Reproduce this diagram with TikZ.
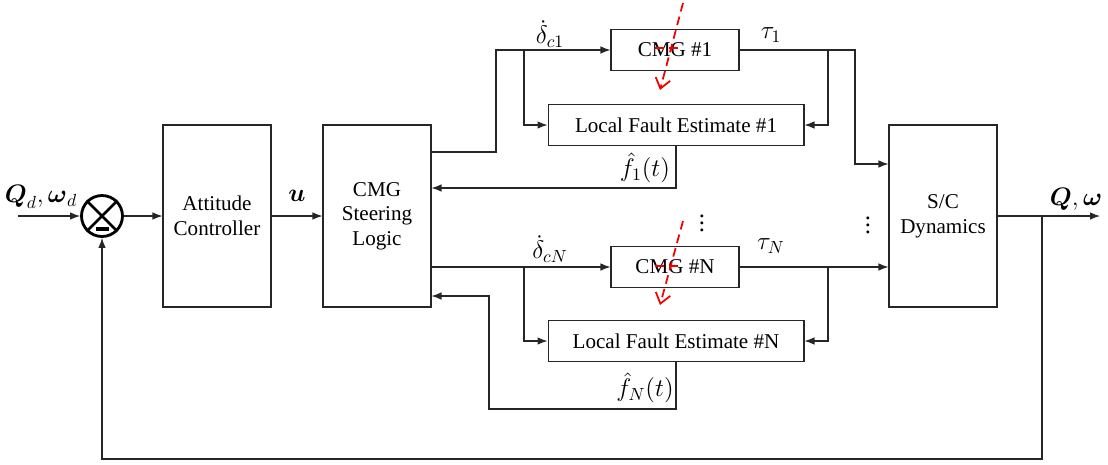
\documentclass[tikz,border=0pt]{standalone}
\usepackage{amsmath}
\usepackage{fontspec}
\setmainfont{Liberation Serif}
\usetikzlibrary{arrows.meta}

\tikzstyle{block}=[draw, line width = 0.6pt, align = center, inner sep = 0pt]
\tikzstyle{tall}=[block, minimum width = 2.16cm, minimum height = 3.64cm]
\tikzstyle{cmg}=[block, minimum width = 2.56cm, minimum height = 0.82cm]
\tikzstyle{est}=[block, minimum width = 5.12cm, minimum height = 0.82cm]
\tikzstyle{sig}=[inner sep = 0pt, font = \fontsize{14}{16}\selectfont]
\tikzstyle{fault}=[draw = red!95!black, line width = 1pt, dash pattern = on 5pt off 3pt]

\begin{document}
\begin{tikzpicture}[x = 0.02cm, y = -0.02cm, line width = 0.6pt, draw = black!85,
  >={Latex[length = 2mm, width = 1.5mm]}, font = \fontsize{12}{14}\selectfont]
\useasboundingbox (0,0) rectangle (1108,464);
%
\draw(102,216) node[circle, draw = black, line width = 1.6pt, minimum size = 0.82cm,
  inner sep = 0pt](sum){};
\draw[draw = black, line width = 1.6pt] (sum.north west) -- (sum.south east)
  (sum.north east) -- (sum.south west);
\fill (102,229) node[fill, minimum width = 0.26cm, minimum height = 0.08cm,
  inner sep = 0pt](minus){};
\coordinate (in) at (18,216);
\draw[->] (in) -- (sum.west);
\draw(41,197) node[sig](ref){$\boldsymbol{Q}_d,\boldsymbol{\omega}_d$};
%
\draw(217,216) node[tall](att){Attitude\\Controller};
\draw[->] (sum.east) -- (att.west);
\draw(377,216) node[tall](sl){CMG\\Steering\\Logic};
\draw[->] (att.east) -- node[sig, above, yshift = 8pt]{$\boldsymbol{u}$} (sl.west);
\draw(943,216) node[tall](sc){S/C\\Dynamics};
%
% first CMG and its fault estimator
\draw(675,50) node[cmg](cmg1){CMG \#1};
\draw(676,125) node[est](lfe1){Local Fault Estimate \#1};
\coordinate (j1) at (524,50);
\coordinate (k1) at (828,50);
\draw[->] (sl.east |- 0,152) -- (496,152) |- (cmg1.west);
\draw[->] (j1) |- (lfe1.west);
\draw[->] (cmg1.east) -- (855,50) |- (sc.west |- 0,164);
\draw[->] (k1) |- (lfe1.east);
\draw[->] (lfe1.south) |- (sl.east |- 0,188);
\draw(550,34) node[sig](d1){$\dot{\delta}_{c1}$};
\draw(771,35) node[sig](t1){$\tau_1$};
\draw(645,168) node[sig](f1){$\hat{f}_1(t)$};
%
\draw(702,218) node[sig](dots1){$\vdots$};
\draw(868,220) node[sig](dots2){$\vdots$};
%
% N-th CMG and its fault estimator
\draw(675,267) node[cmg](cmgN){CMG \#N};
\draw(676,341) node[est](lfeN){Local Fault Estimate \#N};
\coordinate (jN) at (524,267);
\coordinate (kN) at (828,267);
\draw[->] (sl.east |- cmgN) -- (cmgN.west);
\draw[->] (jN) |- (lfeN.west);
\draw[->] (cmgN.east) -- (sc.west |- cmgN);
\draw[->] (kN) |- (lfeN.east);
\draw[->] (lfeN.south) -- (lfeN.south |- 0,409) -| (489,296) -- (sl.east |- 0,296);
\draw(550,249) node[sig](dN){$\dot{\delta}_{cN}$};
\draw(771,246) node[sig](tN){$\tau_N$};
\draw(645,388) node[sig](fN){$\hat{f}_N(t)$};
%
% faults hitting the actuators
\draw[fault, -{Straight Barb[length = 2mm, width = 3mm]}] (683,3) -- (660,90);
\draw[fault] (655,48) -- (683,48);
\draw[fault, -{Straight Barb[length = 2mm, width = 3mm]}] (683,221) -- (660,305);
\draw[fault] (655,266) -- (683,266);
%
\coordinate (out) at (1100,216);
\coordinate (fb) at (1042,216);
\draw[->] (sc.east) -- (out);
\draw(1076,199) node[sig](y){$\boldsymbol{Q},\boldsymbol{\omega}$};
\draw[->] (fb) -- (1042,459) -| (sum.south);
\end{tikzpicture}
\end{document}
